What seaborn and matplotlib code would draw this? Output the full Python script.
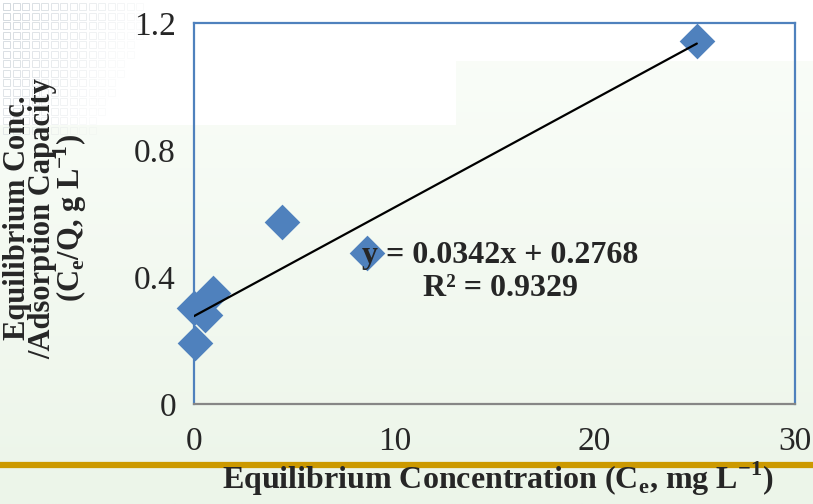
import numpy as np
import pandas as pd
import matplotlib
matplotlib.use("Agg")
import matplotlib.pyplot as plt
import seaborn as sns
from matplotlib.patches import Rectangle
from matplotlib.lines import Line2D

# Equilibrium concentration (mg/L) and Ce/Q (g/L)
ce = [0.05, 0.0, 0.55, 0.96, 4.41, 8.62, 25.1]
ce_over_q = [0.191, 0.303, 0.280, 0.349, 0.574, 0.475, 1.143]

# Linear fit reported for the isotherm
slope = 0.0342
intercept = 0.2768
r_squared = 0.9329

x_ticks = [0, 10, 20, 30]
y_ticks = [0, 0.4, 0.8, 1.2]
y_tick_labels = ["0", "0.4", "0.8", "1.2"]

df = pd.DataFrame({"Ce": ce, "CeQ": ce_over_q})

sns.set_theme(style="white")
plt.rcParams["font.family"] = ["Liberation Serif", "DejaVu Serif"]
plt.rcParams["mathtext.fontset"] = "custom"
plt.rcParams["mathtext.rm"] = "Liberation Serif"
plt.rcParams["mathtext.bf"] = "Liberation Serif:bold"

W, H = 813, 504
fig = plt.figure(figsize=(W / 100, H / 100), dpi=100)

# Slide-style background: pale green gradient with white upper panels
bg = fig.add_axes([0, 0, 1, 1], zorder=-10)
bg.set_xlim(0, W)
bg.set_ylim(H, 0)
bg.axis("off")
top = np.array([0xFB, 0xFE, 0xFA]) / 255
bottom = np.array([0xEC, 0xF5, 0xE9]) / 255
t = np.linspace(0, 1, 256)[:, None, None]
grad = top * (1 - t) + bottom * t
bg.imshow(np.repeat(grad, 2, axis=1), extent=[0, W, H, 0], aspect="auto")
bg.add_patch(Rectangle((0, 0), 456, 125, color="white", lw=0))
bg.add_patch(Rectangle((456, 0), W - 456, 61, color="white", lw=0))
# faint square pattern in the upper-left corner
for i in range(15):
    for j in range(14):
        d = i + j * 0.5
        if d < 16:
            bg.add_patch(Rectangle((3 + i * 9.5, 3 + j * 9.5), 7, 7, fill=False,
                                   ec="#D3D9DE", lw=0.7, alpha=max(0.1, 1 - d / 16)))
# gold rule across the slide
bg.add_line(Line2D([0, W], [465, 465], color="#CC9900", lw=4.5))

ax = fig.add_axes([194 / W, 1 - 404 / H, (795 - 194) / W, (404 - 23) / H])
ax.patch.set_alpha(0)

sns.scatterplot(data=df, x="Ce", y="CeQ", marker="D", s=330, color="#4F81BD",
                edgecolor="#4F81BD", linewidth=0, ax=ax, zorder=3, clip_on=False)

fit_x = np.array([min(ce), max(ce)])
sns.lineplot(x=fit_x, y=slope * fit_x + intercept, color="black", lw=1.6, ax=ax, zorder=4)

ax.set_xlim(0, 30)
ax.set_ylim(0, 1.2)
ax.set_xticks(x_ticks)
ax.set_yticks(y_ticks)
ax.set_yticklabels(y_tick_labels)
ax.tick_params(axis="both", which="both", direction="out", length=7, width=1.3,
               color="#868686", labelsize=24, pad=6)
ax.tick_params(axis="x", pad=9)

for side in ["left", "top", "right"]:
    ax.spines[side].set_color("#4F81BD")
    ax.spines[side].set_linewidth(1.6)
ax.spines["bottom"].set_color("#868686")
ax.spines["bottom"].set_linewidth(1.6)

ax.set_xlabel("Equilibrium Concentration (C$_\\mathbf{e}$, mg L$^\\mathbf{-1}$)",
              fontsize=23, fontweight="bold", va="top")
ax.xaxis.set_label_coords((498 - 194) / (795 - 194), -0.147)
ax.set_ylabel("Equilibrium Conc.\n/Adsorption Capacity\n(C$_\\mathbf{e}$/Q, g L$^\\mathbf{-1}$)",
              fontsize=22, fontweight="bold", linespacing=0.82)
ax.yaxis.set_label_coords(-0.174, 0.488)

ax.text(15.28, 0.416, f"y = {slope}x + {intercept}\nR\u00b2 = {r_squared}",
        ha="center", va="center", fontsize=23, fontweight="bold", linespacing=1.2, zorder=5)

fig.savefig("out.png", dpi=100)
